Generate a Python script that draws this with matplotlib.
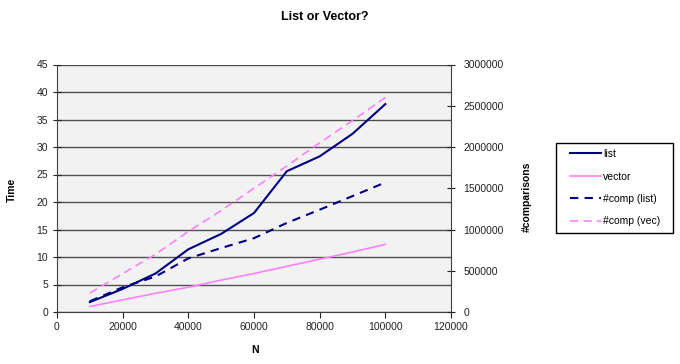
import matplotlib.pyplot as plt
from matplotlib.patches import Rectangle
from matplotlib.ticker import FormatStrFormatter

plt.rcParams['font.family'] = ['Liberation Sans', 'DejaVu Sans']

# data
n = [10000, 20000, 30000, 40000, 50000, 60000, 70000, 80000, 90000, 100000]
t_list = [1.8, 4.2, 7.0, 11.4, 14.2, 18.0, 25.6, 28.3, 32.4, 37.8]
t_vector = [1.0, 2.2, 3.4, 4.5, 5.8, 7.0, 8.3, 9.6, 10.9, 12.3]
comp_list = [130000, 300000, 430000, 650000, 775000, 895000, 1080000, 1240000, 1405000, 1570000]
comp_vec = [229000, 465000, 700000, 975000, 1230000, 1500000, 1770000, 2050000, 2320000, 2600000]

x_ticks = [0, 20000, 40000, 60000, 80000, 100000, 120000]
t_ticks = [0, 5, 10, 15, 20, 25, 30, 35, 40, 45]
c_ticks = [0, 500000, 1000000, 1500000, 2000000, 2500000, 3000000]

navy = "#000080"
pink = "#ff80ff"
fs = 7.5

fig = plt.figure(figsize=(6.8, 3.64), dpi=100)
ax = fig.add_axes([57/680, 52/364, 394/680, 247.5/364])
ax.set_facecolor("#f2f2f2")

l1, = ax.plot(n, t_list, color=navy, lw=1.5, label="list")
l2, = ax.plot(n, t_vector, color=pink, lw=1.2, label="vector")
ax.set_xlim(0, 120000)
ax.set_ylim(0, 45)
ax.set_xticks(x_ticks)
ax.set_yticks(t_ticks)
ax.yaxis.grid(True, color="#505050", lw=1.0)
ax.set_axisbelow(True)
ax.tick_params(axis='y', direction='inout', length=6, labelsize=fs, colors="#222222")
ax.tick_params(axis='x', direction='out', length=4, labelsize=fs, colors="#222222", pad=3)
for s in ["left", "bottom"]:
    ax.spines[s].set_color("#404040")
ax.spines["top"].set_visible(False)
ax.spines["right"].set_visible(False)

ax2 = ax.twinx()
l3, = ax2.plot(n, comp_list, color=navy, lw=1.5, ls=(0, (4, 3)), label="#comp (list)")
l4, = ax2.plot(n, comp_vec, color=pink, lw=1.2, ls=(0, (5, 3)), label="#comp (vec)")
ax2.set_ylim(0, 3000000)
ax2.set_yticks(c_ticks)
ax2.yaxis.set_major_formatter(FormatStrFormatter('%d'))
ax2.tick_params(axis='y', direction='inout', length=6, labelsize=fs, colors="#222222", pad=6)
ax2.spines["right"].set_color("#404040")
for s in ["top", "left", "bottom"]:
    ax2.spines[s].set_visible(False)

fig.text(325/680, 1 - 17/364, "List or Vector?", ha="center", va="center",
         fontsize=9, fontweight="bold")
fig.text(12/680, 1 - 190/364, "Time", rotation=90, ha="center", va="center",
         fontsize=fs, fontweight="bold")
fig.text(255/680, 1 - 350/364, "N", ha="center", va="center",
         fontsize=fs, fontweight="bold")
fig.text(527/680, 1 - 197/364, "#comparisons", rotation=90, ha="center", va="center",
         fontsize=fs, fontweight="bold")

# legend box drawn by hand, entries from legend without frame
fig.patches.append(Rectangle((556/680, 1 - 233/364), 117/680, 90/364,
                             transform=fig.transFigure, facecolor="white",
                             edgecolor="black", lw=1.0, zorder=1))
leg = fig.legend([l1, l2, l3, l4], ["list", "vector", "#comp (list)", "#comp (vec)"],
                 loc="upper left", bbox_to_anchor=(570/680, 1 - 149/364),
                 fontsize=fs, frameon=False,
                 handlelength=3.0, handletextpad=0.15, labelspacing=1.2,
                 borderpad=0, borderaxespad=0)
leg.set_zorder(2)

fig.savefig("out.png", dpi=100)
